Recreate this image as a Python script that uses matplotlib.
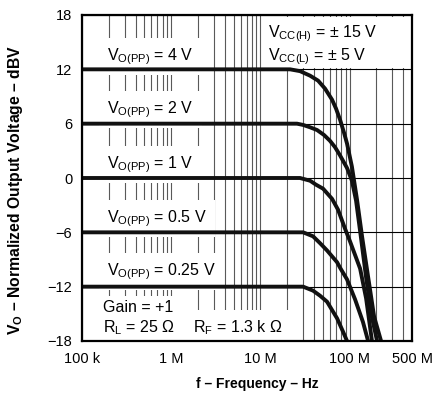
import matplotlib
matplotlib.use('Agg')
import matplotlib.pyplot as plt
from matplotlib.patches import Rectangle

plt.rcParams['font.family'] = 'Liberation Sans'
plt.rcParams['mathtext.fontset'] = 'custom'
plt.rcParams['mathtext.rm'] = 'Liberation Sans'
plt.rcParams['mathtext.it'] = 'Liberation Sans:italic'
plt.rcParams['mathtext.bf'] = 'Liberation Sans:bold'

# normalized output voltage (dBV) vs frequency (Hz), one curve per output swing
freq_4v = [1e5, 21.5e6, 27.8e6, 36.0e6, 44.3e6, 53.0e6, 63.5e6, 70.4e6, 78.0e6,
           86.5e6, 93.5e6, 106e6, 121e6, 138e6, 161e6, 188e6, 225e6]
db_4v = [12, 12, 11.8, 11.3, 10.75, 9.87, 8.65, 7.66, 6.45,
         5.0, 3.8, 1.26, -2.4, -6.5, -10.9, -15.3, -18.0]

freq_2v = [1e5, 25.7e6, 30.1e6, 36.0e6, 43.1e6, 51.6e6, 60.3e6, 68.6e6, 78.0e6,
           93.5e6, 106e6, 118e6, 134e6, 153e6, 178e6, 203e6]
db_2v = [6, 6, 5.86, 5.6, 5.3, 4.75, 4.1, 3.4, 2.5,
         1.1, -0.3, -2.5, -6.6, -11.0, -15.4, -18.0]

freq_1v = [1e5, 27.8e6, 36.0e6, 42.0e6, 50.4e6, 63.5e6, 74.1e6, 88.8e6, 101e6,
           131e6, 153e6, 178e6]
db_1v = [0, 0, -0.3, -0.74, -1.18, -2.3, -3.5, -5.6, -7.0,
         -10.0, -13.3, -18.0]

freq_05v = [1e5, 30.1e6, 38.9e6, 46.6e6, 55.8e6, 72.3e6, 78.0e6, 93.5e6, 115e6,
            141e6, 161e6]
db_05v = [-6, -6, -6.44, -7.2, -8.0, -9.3, -9.9, -11.2, -13.4,
          -15.9, -18.0]

freq_025v = [1e5, 30.1e6, 38.9e6, 46.6e6, 55.8e6, 72.3e6, 84.3e6, 93.5e6]
db_025v = [-12, -12, -12.44, -13.0, -13.66, -15.5, -16.97, -18.0]

curves = [(freq_4v, db_4v), (freq_2v, db_2v), (freq_1v, db_1v),
          (freq_05v, db_05v), (freq_025v, db_025v)]

swing_labels = ['4 V', '2 V', '1 V', '0.5 V', '0.25 V']
swing_label_y = [13.0, 7.2, 1.1, -4.9, -10.7]

x_ticks = [1e5, 1e6, 1e7, 1e8, 5e8]
x_ticklabels = ['100 k', '1 M', '10 M', '100 M', '500 M']
y_ticks = [-18, -12, -6, 0, 6, 12, 18]

fig = plt.figure(figsize=(4.45, 3.94), dpi=100)
ax = fig.add_axes([82 / 445, 53 / 394, 330 / 445, 326 / 394])

ax.set_xscale('log')
ax.set_xlim(1e5, 5e8)
ax.set_ylim(-18, 18)
ax.set_xticks(x_ticks)
ax.set_xticklabels(x_ticklabels)
ax.set_yticks(y_ticks)
ax.tick_params(which='both', length=0, labelsize=10.5)
ax.tick_params(axis='x', pad=8)
ax.tick_params(axis='y', pad=7)

ax.set_axisbelow(True)
ax.grid(axis='x', which='both', color='0.35', lw=0.8)
ax.grid(axis='y', which='major', color='black', lw=0.8)
for s in ax.spines.values():
    s.set_linewidth(1.6)

for f, db in curves:
    ax.plot(f, db, color='#111111', lw=2.8, solid_joinstyle='round', zorder=2)

# white panel behind the supply-voltage note
ax.add_patch(Rectangle((0.548, 12.15), 0.452, 5.6, transform=ax.get_yaxis_transform(),
                       facecolor='white', edgecolor='none', zorder=1))

fs = 11.5
box = dict(facecolor='white', edgecolor='none', pad=6)
for lab, y in zip(swing_labels, swing_label_y):
    ax.text(1.9e5, y, 'V$_\\mathrm{O(PP)}$ = ' + lab, fontsize=fs,
            bbox=box, zorder=1.5)

ax.text(1.22e7, 15.5, 'V$_\\mathrm{CC(H)}$ = ± 15 V', fontsize=fs, zorder=1.5)
ax.text(1.22e7, 13.0, 'V$_\\mathrm{CC(L)}$ = ± 5 V', fontsize=fs, zorder=1.5)

ax.text(1.7e5, -17.0, 'R$_\\mathrm{L}$ = 25 Ω', fontsize=fs, bbox=box, zorder=1.5)
ax.text(1.75e6, -17.0, 'R$_\\mathrm{F}$ = 1.3 k Ω', fontsize=fs, bbox=box, zorder=1.5)
ax.text(1.7e5, -14.8, 'Gain = +1', fontsize=fs, bbox=dict(box, pad=3), zorder=1.6)

ax.set_xlabel('f – Frequency – Hz', fontsize=10, fontweight='bold')
ax.xaxis.set_label_coords(0.53, -0.11)
ax.set_ylabel('V$_\\mathbf{O}$ – Normalized Output Voltage – dBV', fontsize=11.3,
              fontweight='bold')
ax.yaxis.set_label_coords(-0.173, 0.463)

fig.savefig('out.png', dpi=100)
